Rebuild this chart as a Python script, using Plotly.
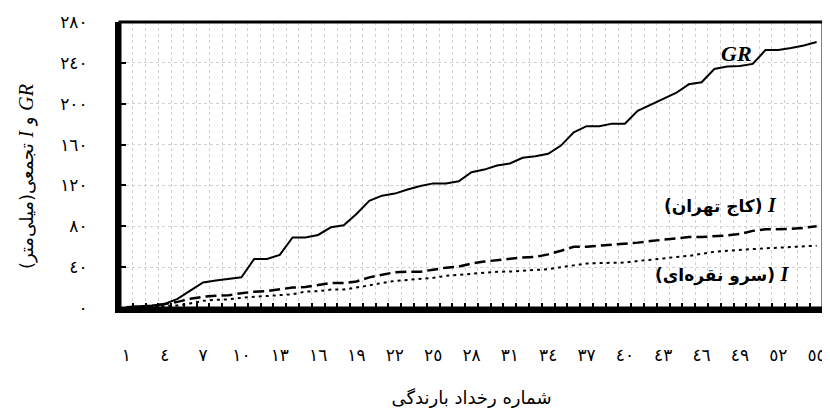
import plotly.graph_objects as go

# ---- data ----
events = list(range(1, 56))

gr_cum = [1, 1.5, 2.5, 4, 9, 17, 25, 27, 28.5, 30,
          48, 48, 52, 69, 69, 71.5, 79, 81, 92, 105,
          110, 112, 116, 119.5, 122, 122, 124, 133, 135.5, 139.5,
          141.5, 147, 148.5, 151, 159, 172, 178, 178, 180.5, 180.5,
          193, 199, 205, 210.5, 219, 221, 234, 236.5, 237, 239,
          252.5, 252.5, 254.5, 257, 260.5]

i_kaj = [0.5, 1, 2, 4, 6, 9, 11, 12, 12.5, 14.5,
         16, 16.5, 18.5, 20, 20.5, 22.5, 24.5, 24.5, 26, 30,
         32.5, 35, 35.5, 35.5, 37.5, 39.5, 40.5, 43.5, 45.5, 47,
         48.5, 49.5, 50, 52.5, 56, 60, 60, 61, 61.5, 63,
         64, 65.5, 67, 68.5, 69.5, 69.5, 70, 71, 72.5, 75.5,
         77, 77, 77.5, 78.5, 80]

i_sarv = [0, 0.5, 1, 1.5, 2.5, 4.5, 7, 8, 8.5, 10,
          11, 12, 13, 13.5, 16, 16.5, 18, 18, 20, 22.5,
          24.5, 26.5, 27.5, 28, 29.5, 31.5, 32.5, 33.5, 34, 35.5,
          35.7, 36.7, 37.4, 38, 40, 42, 43.5, 44, 44, 44.5,
          46, 47, 48.5, 50, 51, 53, 55, 56, 57, 57.5,
          58.5, 59, 59.8, 60, 61]

x_tick_values = [1, 4, 7, 10, 13, 16, 19, 22, 25, 28, 31, 34, 37, 40, 43, 46, 49, 52, 55]
x_tick_labels = ["١", "٤", "٧", "١٠", "١٣", "١٦", "١٩", "٢٢", "٢٥", "٢٨",
                 "٣١", "٣٤", "٣٧", "٤٠", "٤٣", "٤٦", "٤٩", "٥٢", "٥٥"]
y_tick_values = [0, 40, 80, 120, 160, 200, 240, 280]
y_tick_labels = ["٠", "٤٠", "٨٠", "١٢٠", "١٦٠", "٢٠٠", "٢٤٠", "٢٨٠"]

RLE, PDF = "\u202b", "\u202c"
AR_FONT = "DejaVu Sans"
SERIF = "Liberation Serif"

fig = go.Figure()
fig.add_trace(go.Scatter(x=events, y=gr_cum, mode="lines",
                         line=dict(color="black", width=2), name="GR"))
fig.add_trace(go.Scatter(x=events, y=i_kaj, mode="lines",
                         line=dict(color="black", width=2.5, dash="11px,5px"), name="I kaj"))
fig.add_trace(go.Scatter(x=events, y=i_sarv, mode="lines",
                         line=dict(color="black", width=2, dash="3px,4px"), name="I sarv"))

# page has an 8px body margin; figure sized so the visible result fills 830x414
fig.update_layout(
    width=822, height=406,
    margin=dict(l=112, r=4, t=13, b=106),
    plot_bgcolor="white", paper_bgcolor="white",
    showlegend=False,
    font=dict(family=AR_FONT, color="black"),
)

fig.update_xaxes(
    range=[0.5, 55.5],
    tickmode="array", tickvals=x_tick_values, ticktext=x_tick_labels,
    ticks="", showgrid=False, zeroline=False,
    tickfont=dict(family=AR_FONT, size=17, color="black"),
    ticklabelstandoff=28,
    showline=True, linewidth=5, linecolor="black",
    minor=dict(tickmode="linear", tick0=0.5, dtick=1, ticks="inside",
               ticklen=5, tickwidth=2, tickcolor="black",
               showgrid=True, gridcolor="#d0d0d0", gridwidth=1, griddash="dot"),
    title=dict(text="شماره رخداد بارندگی", font=dict(family=AR_FONT, size=18), standoff=28),
)

fig.update_yaxes(
    range=[0, 280],
    tickmode="array", tickvals=y_tick_values, ticktext=y_tick_labels,
    ticks="inside", ticklen=6, tickwidth=2, tickcolor="black",
    tickfont=dict(family=AR_FONT, size=17, color="black"),
    ticklabelstandoff=24,
    showgrid=True, gridcolor="#d0d0d0", gridwidth=1, griddash="dot",
    zeroline=False,
    showline=True, linewidth=5, linecolor="black",
)

# top/right frame
fig.add_shape(type="rect", xref="paper", yref="paper", x0=0, x1=1, y0=0, y1=1,
              line=dict(color="black", width=3), layer="above")

# y-axis title
fig.add_annotation(
    xref="paper", yref="paper", x=-0.152, y=0.46, textangle=-90, showarrow=False,
    text=RLE + f'<span style="font-family:{SERIF};font-size:20px"><i>GR</i></span> و '
         f'<span style="font-family:{SERIF};font-size:20px"><i>I</i></span> تجمعی(میلی‌متر)' + PDF,
    font=dict(family=AR_FONT, size=18, color="black"),
)

# series labels
fig.add_annotation(
    x=48.7, y=249, showarrow=False,
    text="<b><i>GR</i></b>",
    font=dict(family=SERIF, size=22, color="black"),
)
fig.add_annotation(
    x=47.5, y=100, showarrow=False,
    text=RLE + f'<span style="font-family:{SERIF};font-size:20px"><b><i>I</i></b></span> <b>(کاج تهران)</b>' + PDF,
    font=dict(family=AR_FONT, size=17, color="black"),
)
fig.add_annotation(
    x=47.6, y=32.5, showarrow=False,
    text=RLE + f'<span style="font-family:{SERIF};font-size:20px"><b><i>I</i></b></span> <b>(سرو نقره‌ای)</b>' + PDF,
    font=dict(family=AR_FONT, size=17, color="black"),
)

fig.write_html("out.html")
